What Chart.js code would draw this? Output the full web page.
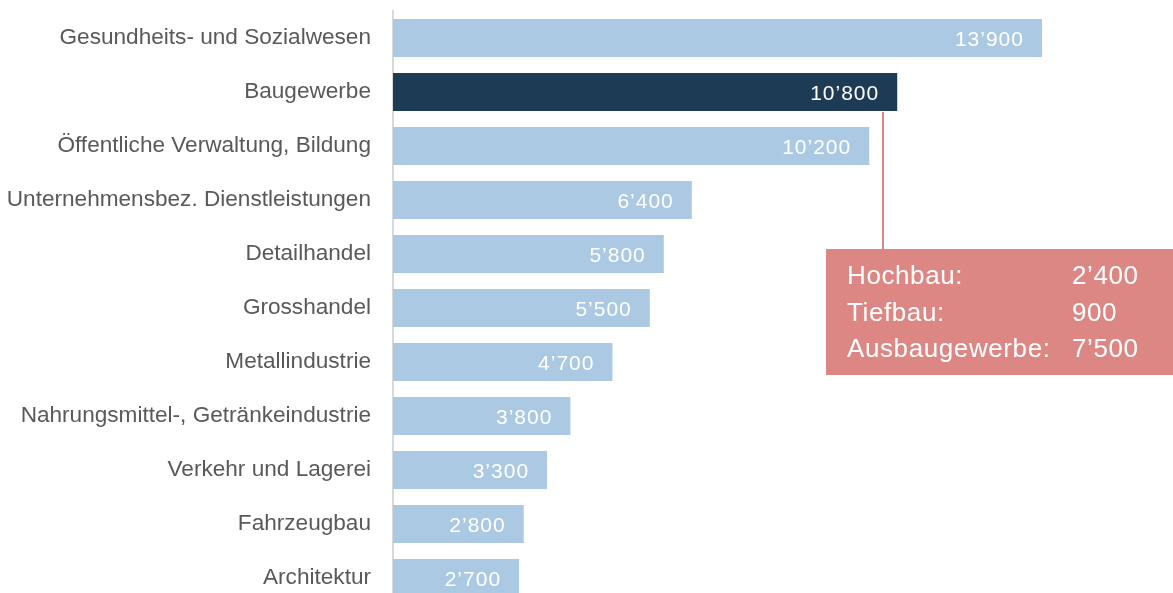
<!DOCTYPE html>
<html>
<head>
<meta charset="utf-8">
<script src="https://cdn.jsdelivr.net/npm/chart.js@4"></script>
<style>
  html, body { margin: 0; padding: 0; background: #fff; overflow: hidden; }
  #wrap { position: relative; width: 1173px; height: 605px; }
</style>
</head>
<body>
<div id="wrap"><canvas id="chart"></canvas></div>
<script>
    const branchen = [
        'Gesundheits- und Sozialwesen',
        'Baugewerbe',
        'Öffentliche Verwaltung, Bildung',
        'Unternehmensbez. Dienstleistungen',
        'Detailhandel',
        'Grosshandel',
        'Metallindustrie',
        'Nahrungsmittel-, Getränkeindustrie',
        'Verkehr und Lagerei',
        'Fahrzeugbau',
        'Architektur'
    ];
    const werte = [13900, 10800, 10200, 6400, 5800, 5500, 4700, 3800, 3300, 2800, 2700];
    const hervorgehoben = 'Baugewerbe';

    // Aufteilung Baugewerbe
    const teilLabels = ['Hochbau:', 'Tiefbau:', 'Ausbaugewerbe:'];
    const teilWerte = [2400, 900, 7500];

    const FONT = '"Liberation Sans", Arial, sans-serif';
    const HELL = '#abc9e2';
    const DUNKEL = '#1d3b55';
    const ROSA = '#dd8785';

    function format(n) {
        return n.toString().replace(/\B(?=(\d{3})+(?!\d))/g, '\u2019');
    }

    // Werte in die Balken schreiben
    const wertLabels = {
        id: 'wertLabels',
        afterDatasetsDraw(chart) {
            const ctx = chart.ctx;
            const meta = chart.getDatasetMeta(0);
            ctx.save();
            ctx.font = '21px ' + FONT;
            ctx.letterSpacing = '1px';
            ctx.fillStyle = '#ffffff';
            ctx.textAlign = 'right';
            ctx.textBaseline = 'alphabetic';
            meta.data.forEach((bar, i) => {
                ctx.fillText(format(werte[i]), bar.x - 18, bar.y + 8);
            });
            ctx.restore();
        }
    };

    // Kasten mit Aufteilung
    const aufteilung = {
        id: 'aufteilung',
        afterDraw(chart) {
            const ctx = chart.ctx;
            const idx = branchen.indexOf(hervorgehoben);
            const bar = chart.getDatasetMeta(0).data[idx];
            const lineX = 883;
            const boxX = 826, boxY = 249, boxW = 347, boxH = 126;
            ctx.save();
            ctx.strokeStyle = ROSA;
            ctx.lineWidth = 2;
            ctx.beginPath();
            ctx.moveTo(lineX, bar.y + bar.height / 2 + 1);
            ctx.lineTo(lineX, boxY);
            ctx.stroke();
            ctx.fillStyle = ROSA;
            ctx.fillRect(boxX, boxY, boxW, boxH);
            ctx.fillStyle = '#ffffff';
            ctx.font = '26px ' + FONT;
            ctx.letterSpacing = '0.6px';
            ctx.textBaseline = 'alphabetic';
            ctx.textAlign = 'left';
            teilLabels.forEach((t, i) => {
                const y = 284 + i * 36.5;
                ctx.fillText(t, 847, y);
                ctx.fillText(format(teilWerte[i]), 1072, y);
            });
            ctx.restore();
        }
    };

    new Chart(document.getElementById('chart'), {
        type: 'bar',
        data: {
            labels: branchen,
            datasets: [{
                data: werte,
                backgroundColor: branchen.map(b => b === hervorgehoben ? DUNKEL : HELL),
                barPercentage: 0.704,
                categoryPercentage: 1
            }]
        },
        options: {
            indexAxis: 'y',
            responsive: true,
            maintainAspectRatio: false,
            animation: false,
            layout: { padding: { top: 11, right: 33, bottom: 0, left: 0 } },
            plugins: {
                legend: { display: false },
                tooltip: { enabled: false }
            },
            scales: {
                x: {
                    min: 0,
                    max: 16000,
                    display: false
                },
                y: {
                    afterFit(scale) {
                        scale.width = 393;
                        scale.paddingTop = 0;
                        scale.paddingBottom = 0;
                    },
                    grid: { display: false, drawTicks: false },
                    border: { display: true, color: '#d9d9d9', width: 2 },
                    ticks: {
                        color: '#595959',
                        padding: 22,
                        font: { family: FONT, size: 22.6 }
                    }
                }
            }
        },
        plugins: [wertLabels, aufteilung]
    });
</script>
</body>
</html>
